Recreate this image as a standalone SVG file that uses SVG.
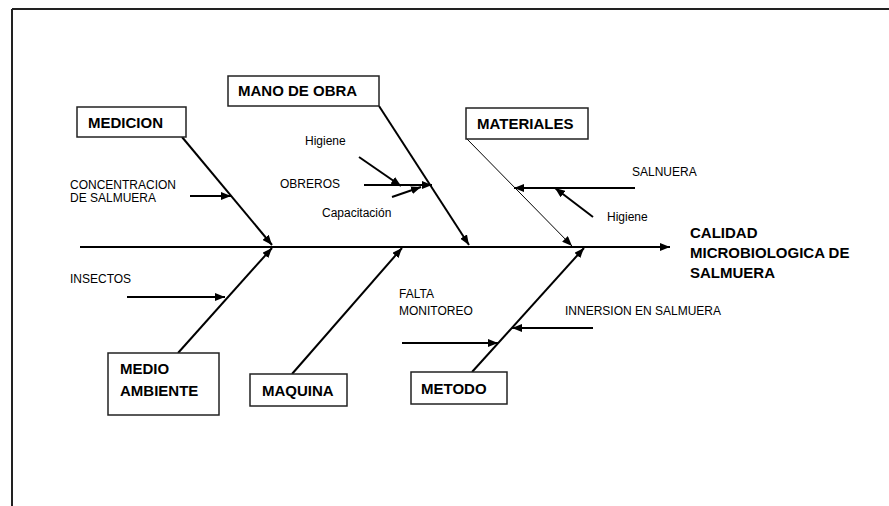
<svg xmlns="http://www.w3.org/2000/svg" width="889" height="506" viewBox="0 0 889 506">
<defs>
<marker id="ah" viewBox="0 0 10 8" refX="10" refY="4" markerWidth="10" markerHeight="8" markerUnits="userSpaceOnUse" orient="auto">
<path d="M0,0 L10,4 L0,8 Z" fill="#000"/>
</marker>
</defs>
<style>
.box{fill:#fff;stroke:#222;stroke-width:1.5}
.lbl{font-family:"Liberation Sans",Arial,sans-serif;font-weight:bold;font-size:15px;fill:#000}
.sm{font-family:"Liberation Sans",Arial,sans-serif;font-size:12px;fill:#000}
.ln{stroke:#000;stroke-width:2;fill:none;marker-end:url(#ah)}
.thin{stroke:#000;stroke-width:1;fill:none;marker-end:url(#ah)}
</style>
<rect width="889" height="506" fill="#fff"/>
<g id="frame" stroke="#222" stroke-width="2" fill="none">
<line x1="12" y1="9" x2="889" y2="9"/>
<line x1="12" y1="9" x2="12" y2="506"/>
</g>
<g id="connectors">
<line class="ln" x1="80" y1="247" x2="670" y2="247"/>
<line class="ln" x1="182" y1="137" x2="272" y2="245"/>
<line class="ln" x1="178" y1="353" x2="272" y2="248"/>
<line class="ln" x1="292" y1="374" x2="402" y2="248"/>
<line class="ln" x1="472" y1="372" x2="584" y2="248"/>
<line class="ln" x1="379" y1="106" x2="469" y2="245"/>
<line class="thin" x1="467" y1="139" x2="572" y2="246"/>
<line class="ln" x1="190" y1="196" x2="231" y2="196"/>
<line class="ln" x1="127" y1="297" x2="225" y2="297"/>
<line class="ln" x1="359" y1="157" x2="401" y2="186"/>
<line class="ln" x1="364" y1="185" x2="432" y2="185"/>
<line class="ln" x1="392" y1="197" x2="421" y2="187"/>
<line class="ln" x1="635" y1="188" x2="514" y2="188"/>
<line class="ln" x1="593" y1="217" x2="555" y2="188"/>
<line class="ln" x1="402" y1="343" x2="498" y2="343"/>
<line class="ln" x1="593" y1="328" x2="512" y2="328"/>
</g>
<g id="medicion">
<rect class="box" x="77" y="107" width="109" height="30"/>
<text class="lbl" x="88" y="128">MEDICION</text>
</g>
<g id="mano-de-obra">
<rect class="box" x="228" y="76" width="151" height="30"/>
<text class="lbl" x="238" y="96">MANO DE OBRA</text>
</g>
<g id="materiales">
<rect class="box" x="466" y="108" width="122" height="31"/>
<text class="lbl" x="477" y="129">MATERIALES</text>
</g>
<g id="medio-ambiente">
<rect class="box" x="108" y="353" width="111" height="62"/>
<text class="lbl" x="120" y="374">MEDIO</text>
<text class="lbl" x="120" y="396">AMBIENTE</text>
</g>
<g id="maquina">
<rect class="box" x="250" y="374" width="97" height="32"/>
<text class="lbl" x="262" y="396">MAQUINA</text>
</g>
<g id="metodo">
<rect class="box" x="411" y="372" width="96" height="32"/>
<text class="lbl" x="421" y="394">METODO</text>
</g>
<g id="efecto">
<text class="lbl" x="690" y="238">CALIDAD</text>
<text class="lbl" x="690" y="258">MICROBIOLOGICA DE</text>
<text class="lbl" x="690" y="278">SALMUERA</text>
</g>
<g id="causas">
<text class="sm" x="70" y="189">CONCENTRACION</text>
<text class="sm" x="70" y="202">DE SALMUERA</text>
<text class="sm" x="70" y="283">INSECTOS</text>
<text class="sm" x="305" y="145">Higiene</text>
<text class="sm" x="280" y="188">OBREROS</text>
<text class="sm" x="322" y="217">Capacitación</text>
<text class="sm" x="632" y="176">SALNUERA</text>
<text class="sm" x="607" y="221">Higiene</text>
<text class="sm" x="399" y="298">FALTA</text>
<text class="sm" x="399" y="315">MONITOREO</text>
<text class="sm" x="565" y="315">INNERSION EN SALMUERA</text>
</g>
</svg>
